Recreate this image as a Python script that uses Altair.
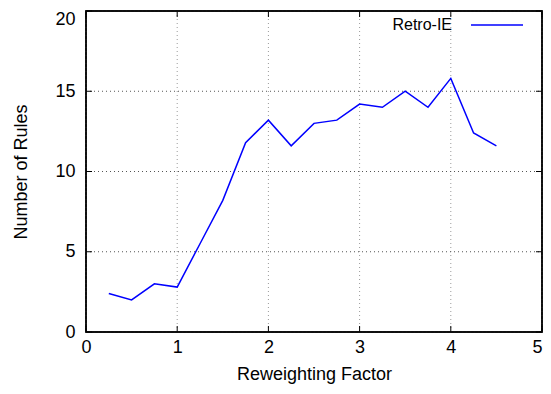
import altair as alt
import pandas as pd

factor = [0.25, 0.5, 0.75, 1.0, 1.25, 1.5, 1.75, 2.0, 2.25, 2.5, 2.75, 3.0, 3.25, 3.5, 3.75, 4.0, 4.25, 4.5]
rules = [2.4, 2.0, 3.0, 2.8, 5.5, 8.2, 11.8, 13.2, 11.6, 13.0, 13.2, 14.2, 14.0, 15.0, 14.0, 15.8, 12.4, 11.6]
x_ticks = [0, 1, 2, 3, 4, 5]
y_ticks = [0, 5, 10, 15, 20]
series_name = ["Retro-IE"]

W, H = 456, 321
FONT = "Liberation Sans"
FS = 18

df = pd.DataFrame({"x": factor, "y": rules})
dfx = pd.DataFrame({"x": x_ticks})
dfy = pd.DataFrame({"y": y_ticks})
dfl = pd.DataFrame({"t": series_name})

xs = alt.Scale(domain=[0, 5], nice=False, zero=False)
ys = alt.Scale(domain=[0, 20], nice=False, zero=False)
xa = alt.Axis(values=x_ticks, title="Reweighting Factor", grid=False, ticks=False, domain=False,
              labelPadding=6, titlePadding=9, labelFlush=False,
              labelAlign={"condition": {"test": "datum.value == 5", "value": "right"}, "value": "center"})
ya = alt.Axis(values=y_ticks, title="Number of Rules", grid=False, ticks=False, domain=False,
              labelPadding=11, titlePadding=24, labelFlush=False,
              labelOffset={"condition": {"test": "datum.value == 20", "value": 8}, "value": 0})


def X():
    return alt.X("x:Q", scale=xs, axis=xa)


def Y():
    return alt.Y("y:Q", scale=ys, axis=ya)


grid_x = alt.Chart(dfx).mark_rule(color="#9a9a9a", strokeDash=[1, 3], strokeWidth=1).encode(
    x=X(), y=alt.value(0), y2=alt.value(H))
grid_y = alt.Chart(dfy).mark_rule(color="#555555", strokeDash=[1, 3], strokeWidth=1).encode(
    y=Y(), x=alt.value(0), x2=alt.value(W))

line = alt.Chart(df).mark_line(color="#0000ff", strokeWidth=1.5).encode(x=X(), y=Y())

tick_b = alt.Chart(dfx).mark_rule(color="black", strokeWidth=1).encode(
    x=X(), y=alt.value(H), y2=alt.value(H - 6))
tick_t = alt.Chart(dfx).mark_rule(color="black", strokeWidth=1).encode(
    x=X(), y=alt.value(0), y2=alt.value(6))
tick_l = alt.Chart(dfy).mark_rule(color="black", strokeWidth=1).encode(
    y=Y(), x=alt.value(0), x2=alt.value(6))
tick_r = alt.Chart(dfy).mark_rule(color="black", strokeWidth=1).encode(
    y=Y(), x=alt.value(W), x2=alt.value(W - 6))

frame = alt.Chart(dfl).mark_rect(filled=False, stroke="black", strokeWidth=1.5).encode(
    x=alt.value(0), x2=alt.value(W), y=alt.value(0), y2=alt.value(H))

leg_text = alt.Chart(dfl).mark_text(align="right", baseline="middle", font=FONT, fontSize=16, color="black").encode(
    text="t:N", x=alt.value(366), y=alt.value(14))
leg_line = alt.Chart(dfl).mark_rule(color="#0000ff", strokeWidth=1.5).encode(
    x=alt.value(385), x2=alt.value(437), y=alt.value(14))

chart = alt.layer(
    grid_x, grid_y, line, tick_b, tick_t, tick_l, tick_r, frame, leg_text, leg_line
).properties(
    width=W, height=H,
    autosize=alt.AutoSizeParams(type="none"),
    padding={"left": 78, "top": 3, "right": 1, "bottom": 54},
    background="white",
).configure_view(
    stroke="black", strokeWidth=1.5
).configure_axis(
    labelFont=FONT, titleFont=FONT, labelFontSize=FS, titleFontSize=FS,
    titleFontWeight="normal", labelColor="black", titleColor="black",
)

chart.save("out.html", embed_options={"renderer": "svg", "actions": False})
